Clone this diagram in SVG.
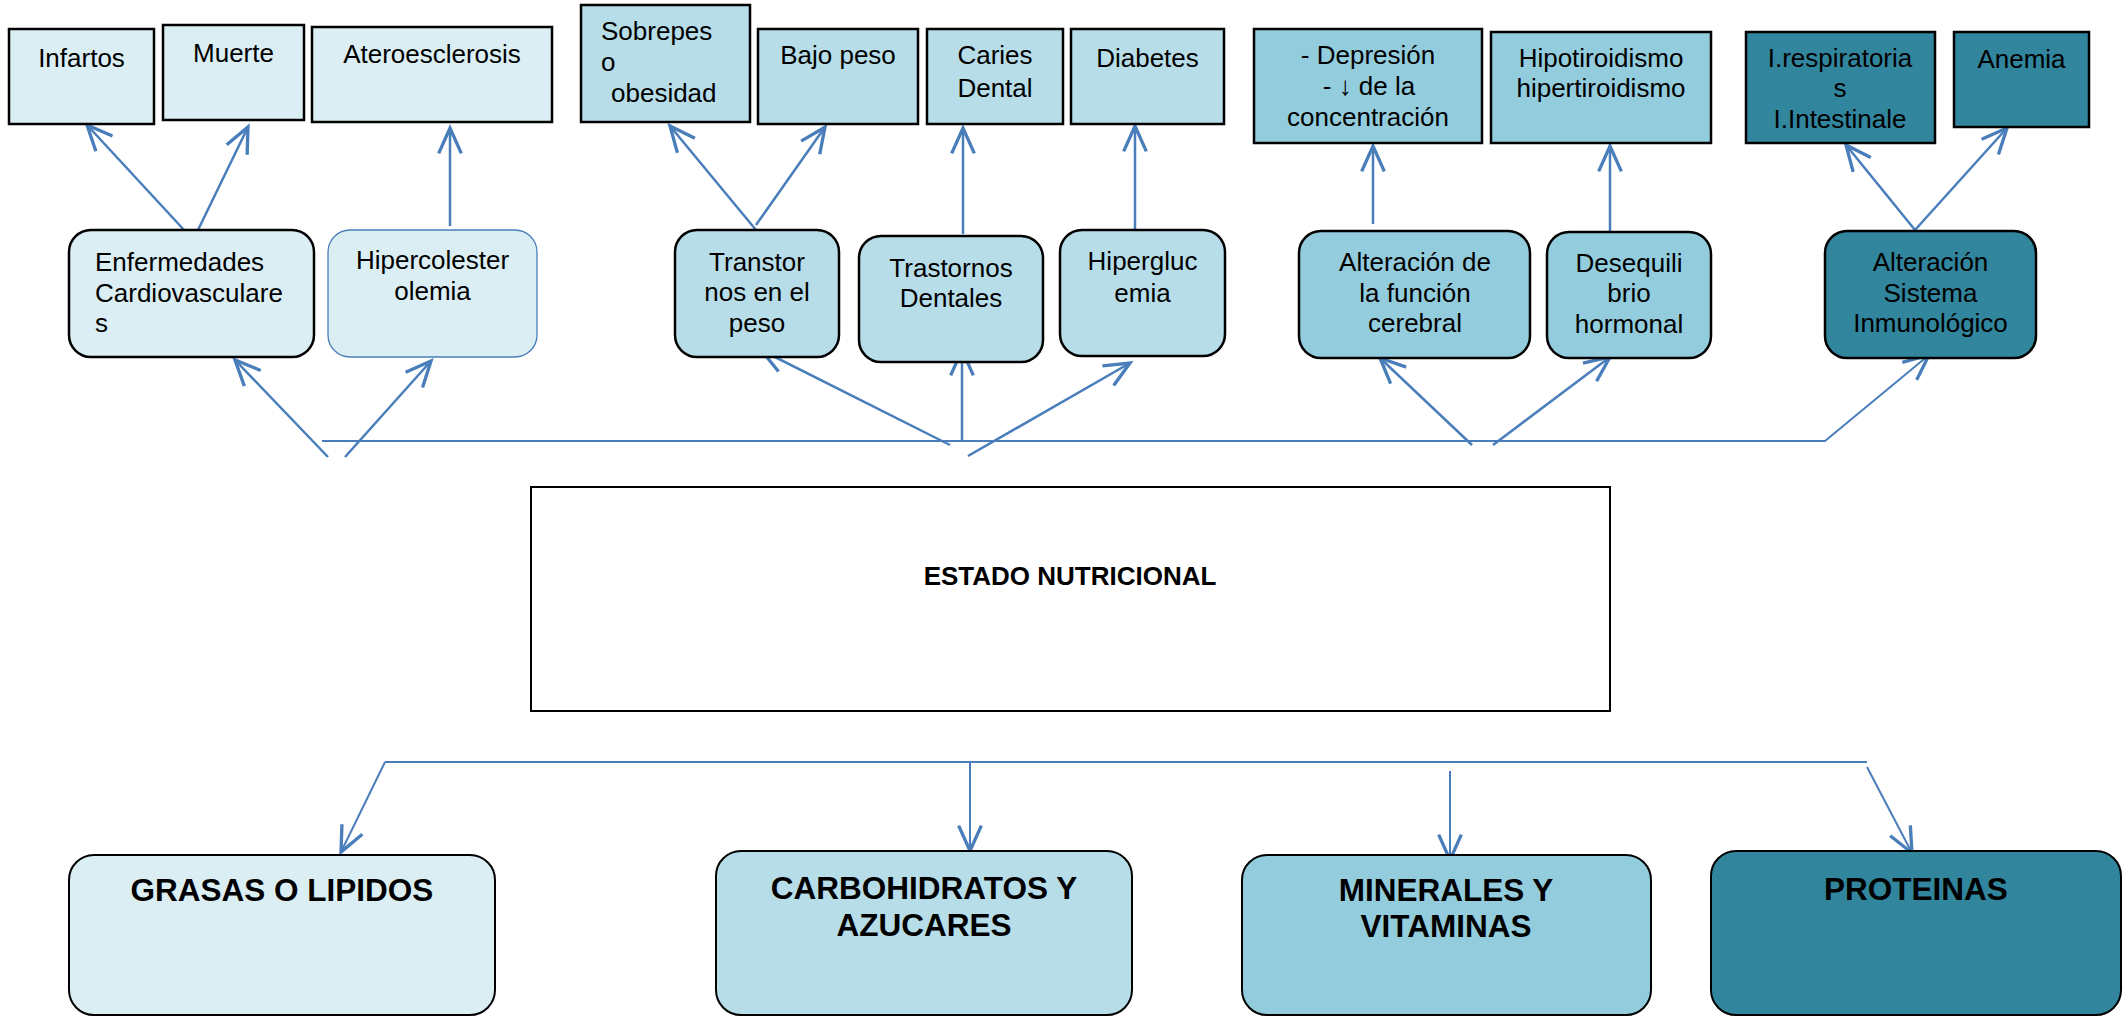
<svg xmlns="http://www.w3.org/2000/svg" width="2124" height="1016" viewBox="0 0 2124 1016">
<style>
text{font-family:"Liberation Sans",Arial,sans-serif;font-size:26px;fill:#000}
.c{text-anchor:middle}
.b{font-weight:bold}
.big{font-size:31.5px;font-weight:bold;text-anchor:middle}
.box{stroke:#000;stroke-width:2.5}
.rbox{stroke:#000;stroke-width:2.5}
.l1{fill:#daeef3}.l2{fill:#b7dde8}.l3{fill:#93cddd}.l4{fill:#31859c}
.cn{fill:none;stroke:#4a7ebb;stroke-width:2.5}
.cn2{fill:none;stroke:#4a7ebb;stroke-width:2}
</style>
<defs>
<marker id="ah" markerUnits="userSpaceOnUse" markerWidth="40" markerHeight="40" viewBox="-25 -15 30 30" refX="0" refY="0" orient="auto" overflow="visible">
<path d="M-19,-8.5 L0,0 L-19,8.5" fill="none" stroke="#4a7ebb" stroke-width="2.5"/>
</marker>
</defs>

<g id="connectors">
<line class="cn" x1="185" y1="231" x2="87" y2="125" marker-end="url(#ah)"/>
<line class="cn" x1="198" y1="230" x2="248" y2="127" marker-end="url(#ah)"/>
<line class="cn" x1="450" y1="226" x2="450" y2="128" marker-end="url(#ah)"/>
<line class="cn" x1="756" y1="230" x2="670" y2="126" marker-end="url(#ah)"/>
<line class="cn" x1="756" y1="225" x2="825" y2="127" marker-end="url(#ah)"/>
<line class="cn" x1="963" y1="234" x2="963" y2="128" marker-end="url(#ah)"/>
<line class="cn" x1="1135" y1="232" x2="1135" y2="126" marker-end="url(#ah)"/>
<line class="cn" x1="1373" y1="224" x2="1373" y2="146" marker-end="url(#ah)"/>
<line class="cn" x1="1610" y1="235" x2="1610" y2="146" marker-end="url(#ah)"/>
<line class="cn" x1="1915" y1="230" x2="1846" y2="145" marker-end="url(#ah)"/>
<line class="cn" x1="1915" y1="230" x2="2007" y2="128" marker-end="url(#ah)"/>

<polyline class="cn2" points="322,441 1825,441 1929,355" marker-end="url(#ah)"/>
<line class="cn" x1="328" y1="457" x2="235" y2="360" marker-end="url(#ah)"/>
<line class="cn" x1="345" y1="457" x2="431" y2="361" marker-end="url(#ah)"/>
<line class="cn" x1="950" y1="445" x2="761" y2="350" marker-end="url(#ah)"/>
<line class="cn" x1="962" y1="441" x2="962" y2="350" marker-end="url(#ah)"/>
<line class="cn" x1="968" y1="456" x2="1130" y2="363" marker-end="url(#ah)"/>
<line class="cn" x1="1472" y1="445" x2="1380" y2="358" marker-end="url(#ah)"/>
<line class="cn" x1="1493" y1="445" x2="1610" y2="357" marker-end="url(#ah)"/>

<line class="cn2" x1="385" y1="762" x2="1867" y2="762"/>
<line class="cn2" x1="385" y1="762" x2="341" y2="852" marker-end="url(#ah)"/>
<line class="cn2" x1="970" y1="762" x2="970" y2="851" marker-end="url(#ah)"/>
<line class="cn2" x1="1450" y1="771" x2="1450" y2="860" marker-end="url(#ah)"/>
<line class="cn2" x1="1867" y1="767" x2="1912" y2="853" marker-end="url(#ah)"/>
</g>

<g id="infartos"><rect class="box l1" x="9" y="29" width="145" height="95"/><text class="c" x="81.5" y="67">Infartos</text></g>
<g id="muerte"><rect class="box l1" x="163" y="25" width="141" height="95"/><text class="c" x="233.5" y="62">Muerte</text></g>
<g id="ateroesclerosis"><rect class="box l1" x="312" y="27" width="240" height="95"/><text class="c" x="432" y="63">Ateroesclerosis</text></g>
<g id="sobrepeso"><rect class="box l2" x="581" y="5" width="169" height="117" stroke="#222"/><text x="601" y="40">Sobrepes</text><text x="601" y="71">o</text><text x="611" y="102">obesidad</text></g>
<g id="bajopeso"><rect class="box l2" x="758" y="29" width="160" height="95"/><text class="c" x="838" y="64">Bajo peso</text></g>
<g id="caries"><rect class="box l2" x="927" y="29" width="136" height="95"/><text class="c" x="995" y="64">Caries</text><text class="c" x="995" y="97">Dental</text></g>
<g id="diabetes"><rect class="box l2" x="1071" y="29" width="153" height="95"/><text class="c" x="1147.5" y="67">Diabetes</text></g>
<g id="depresion"><rect class="box l3" x="1254" y="29" width="228" height="114"/><text class="c" x="1368" y="64">- Depresión</text><text class="c" x="1369" y="95">- ↓ de la</text><text class="c" x="1368" y="126">concentración</text></g>
<g id="tiroides"><rect class="box l3" x="1491" y="32" width="220" height="111"/><text class="c" x="1601" y="67">Hipotiroidismo</text><text class="c" x="1601" y="97">hipertiroidismo</text></g>
<g id="infecciones"><rect class="box l4" x="1746" y="32" width="189" height="111"/><text class="c" x="1840" y="67">I.respiratoria</text><text class="c" x="1840" y="97">s</text><text class="c" x="1840" y="128">I.Intestinale</text></g>
<g id="anemia"><rect class="box l4" x="1954" y="32" width="135" height="95"/><text class="c" x="2021.5" y="68">Anemia</text></g>

<g id="enfermedades"><rect class="rbox l1" x="69" y="230" width="245" height="127" rx="22"/><text x="95" y="271">Enfermedades</text><text x="95" y="302">Cardiovasculare</text><text x="95" y="332">s</text></g>
<g id="hipercolesterolemia"><rect class="l1" x="328" y="230" width="209" height="127" rx="22" stroke="#4a7ebb" stroke-width="1.3"/><text class="c" x="432.5" y="269">Hipercolester</text><text class="c" x="432.5" y="300">olemia</text></g>
<g id="transtornos-peso"><rect class="rbox l2" x="675" y="230" width="164" height="127" rx="22"/><text class="c" x="757" y="271">Transtor</text><text class="c" x="757" y="301">nos en el</text><text class="c" x="757" y="332">peso</text></g>
<g id="trastornos-dentales"><rect class="rbox l2" x="859" y="236" width="184" height="126" rx="22"/><text class="c" x="951" y="277">Trastornos</text><text class="c" x="951" y="307">Dentales</text></g>
<g id="hiperglucemia"><rect class="rbox l2" x="1060" y="230" width="165" height="126" rx="22"/><text class="c" x="1142.5" y="270">Hipergluc</text><text class="c" x="1142.5" y="302">emia</text></g>
<g id="alteracion-cerebral"><rect class="rbox l3" x="1299" y="231" width="231" height="127" rx="22"/><text class="c" x="1415" y="271">Alteración de</text><text class="c" x="1415" y="302">la función</text><text class="c" x="1415" y="332">cerebral</text></g>
<g id="desequilibrio"><rect class="rbox l3" x="1547" y="232" width="164" height="126" rx="22"/><text class="c" x="1629" y="272">Desequili</text><text class="c" x="1629" y="302">brio</text><text class="c" x="1629" y="333">hormonal</text></g>
<g id="inmunologico"><rect class="rbox l4" x="1825" y="231" width="211" height="127" rx="22"/><text class="c" x="1930.5" y="271">Alteración</text><text class="c" x="1930.5" y="302">Sistema</text><text class="c" x="1930.5" y="332">Inmunológico</text></g>

<g id="estado-nutricional"><rect x="531" y="487" width="1079" height="224" fill="#fff" stroke="#000" stroke-width="2"/><text class="c b" x="1070" y="585">ESTADO NUTRICIONAL</text></g>

<g id="grasas"><rect class="l1" x="69" y="855" width="426" height="160" rx="25" stroke="#000" stroke-width="2"/><text class="big" x="282" y="901">GRASAS O LIPIDOS</text></g>
<g id="carbohidratos"><rect class="l2" x="716" y="851" width="416" height="164" rx="25" stroke="#000" stroke-width="2"/><text class="big" x="924" y="899">CARBOHIDRATOS Y</text><text class="big" x="924" y="936">AZUCARES</text></g>
<g id="minerales"><rect class="l3" x="1242" y="855" width="409" height="160" rx="25" stroke="#000" stroke-width="2"/><text class="big" x="1446" y="901">MINERALES Y</text><text class="big" x="1446" y="937">VITAMINAS</text></g>
<g id="proteinas"><rect class="l4" x="1711" y="851" width="410" height="164" rx="25" stroke="#000" stroke-width="2"/><text class="big" x="1916" y="900">PROTEINAS</text></g>
</svg>
